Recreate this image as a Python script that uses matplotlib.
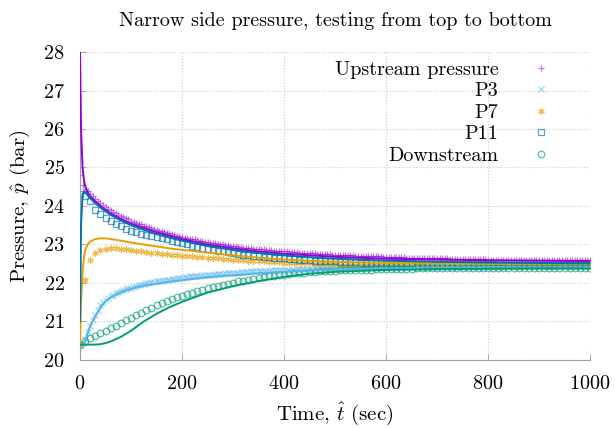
import numpy as np
import matplotlib
matplotlib.use("Agg")
import matplotlib.pyplot as plt

plt.rcParams['font.family'] = 'cmr10'
plt.rcParams['mathtext.fontset'] = 'cm'
plt.rcParams['axes.formatter.use_mathtext'] = True
plt.rcParams['axes.unicode_minus'] = False

# ---- simulation (solid lines) ----
t_sim = [0, 2, 5, 8, 10, 15, 20, 30, 40, 50, 60, 80, 100, 125, 150, 175, 200,
         250, 300, 350, 400, 450, 500, 600, 700, 800, 900, 1000]
sim_upstream = [28.0, 26.0, 25.0, 24.65, 24.52, 24.35, 24.25, 24.12, 24.0, 23.9, 23.81,
                23.66, 23.54, 23.43, 23.32, 23.23, 23.14, 23.0, 22.9, 22.82, 22.76,
                22.72, 22.68, 22.63, 22.61, 22.59, 22.58, 22.57]
sim_p3 = [20.4, 20.4, 20.41, 20.42, 20.48, 20.7, 20.88, 21.14, 21.36, 21.52, 21.62,
          21.75, 21.85, 21.93, 21.98, 22.03, 22.07, 22.15, 22.2, 22.25, 22.29,
          22.33, 22.35, 22.38, 22.4, 22.41, 22.41, 22.41]
sim_p7 = [20.4, 21.5, 22.3, 22.7, 22.85, 23.0, 23.08, 23.14, 23.16, 23.16, 23.14,
          23.1, 23.05, 23.0, 22.95, 22.9, 22.86, 22.79, 22.72, 22.66, 22.61,
          22.58, 22.55, 22.52, 22.51, 22.5, 22.5, 22.5]
sim_p11 = [21.0, 23.5, 24.3, 24.38, 24.36, 24.28, 24.2, 24.07, 23.96, 23.86, 23.77,
           23.62, 23.5, 23.38, 23.27, 23.18, 23.1, 22.96, 22.86, 22.78, 22.72,
           22.67, 22.63, 22.58, 22.55, 22.53, 22.52, 22.51]
sim_down = [20.4, 20.4, 20.4, 20.4, 20.4, 20.4, 20.4, 20.4, 20.41, 20.44, 20.48,
            20.6, 20.76, 21.0, 21.2, 21.37, 21.51, 21.75, 21.92, 22.05, 22.16,
            22.24, 22.29, 22.34, 22.36, 22.37, 22.38, 22.38]

# ---- measurements (markers) ----
t_exp5 = np.arange(0, 1001, 5)
t_exp10 = np.arange(0, 1001, 10)

exp_upstream = [
    24.80, 24.55, 24.45, 24.38, 24.31, 24.25, 24.19, 24.13, 24.08, 24.03,
    23.98, 23.93, 23.89, 23.85, 23.81, 23.77, 23.74, 23.71, 23.68, 23.65,
    23.62, 23.59, 23.57, 23.54, 23.52, 23.49, 23.47, 23.45, 23.42, 23.40,
    23.38, 23.36, 23.34, 23.32, 23.30, 23.29, 23.27, 23.25, 23.23, 23.22,
    23.20, 23.18, 23.17, 23.15, 23.14, 23.13, 23.11, 23.10, 23.09, 23.07,
    23.06, 23.05, 23.04, 23.03, 23.02, 23.01, 23.00, 22.99, 22.98, 22.97,
    22.96, 22.95, 22.94, 22.93, 22.92, 22.92, 22.91, 22.90, 22.89, 22.89,
    22.88, 22.87, 22.87, 22.86, 22.85, 22.85, 22.84, 22.84, 22.83, 22.83,
    22.82, 22.82, 22.81, 22.81, 22.80, 22.80, 22.79, 22.79, 22.78, 22.78,
    22.78, 22.77, 22.77, 22.76, 22.76, 22.76, 22.75, 22.75, 22.75, 22.74,
    22.74, 22.74, 22.73, 22.73, 22.73, 22.72, 22.72, 22.72, 22.71, 22.71,
    22.71, 22.70, 22.70, 22.70, 22.70, 22.69, 22.69, 22.69, 22.69, 22.68,
    22.68, 22.68, 22.68, 22.67, 22.67, 22.67, 22.67, 22.67, 22.66, 22.66,
    22.66, 22.66, 22.66, 22.65, 22.65, 22.65, 22.65, 22.65, 22.65, 22.64,
    22.64, 22.64, 22.64, 22.64, 22.64, 22.63, 22.63, 22.63, 22.63, 22.63,
    22.63, 22.63, 22.62, 22.62, 22.62, 22.62, 22.62, 22.62, 22.62, 22.62,
    22.61, 22.61, 22.61, 22.61, 22.61, 22.61, 22.61, 22.61, 22.61, 22.61,
    22.60, 22.60, 22.60, 22.60, 22.60, 22.60, 22.60, 22.60, 22.60, 22.60,
    22.60, 22.60, 22.59, 22.59, 22.59, 22.59, 22.59, 22.59, 22.59, 22.59,
    22.59, 22.59, 22.59, 22.59, 22.59, 22.59, 22.59, 22.59, 22.59, 22.59,
    22.59]

exp_p3 = [
    20.40, 20.45, 20.55, 20.72, 20.88, 21.03, 21.17, 21.30, 21.42, 21.50,
    21.57, 21.62, 21.66, 21.70, 21.73, 21.76, 21.79, 21.81, 21.84, 21.86,
    21.88, 21.90, 21.92, 21.94, 21.96, 21.97, 21.99, 22.00, 22.02, 22.03,
    22.04, 22.05, 22.06, 22.07, 22.08, 22.09, 22.10, 22.11, 22.12, 22.13,
    22.14, 22.15, 22.16, 22.17, 22.17, 22.18, 22.19, 22.19, 22.20, 22.21,
    22.21, 22.22, 22.22, 22.23, 22.23, 22.24, 22.24, 22.25, 22.25, 22.26,
    22.26, 22.27, 22.27, 22.28, 22.28, 22.29, 22.29, 22.30, 22.30, 22.31,
    22.31, 22.31, 22.32, 22.32, 22.32, 22.33, 22.33, 22.33, 22.34, 22.34,
    22.34, 22.35, 22.35, 22.35, 22.35, 22.36, 22.36, 22.36, 22.37, 22.37,
    22.37, 22.37, 22.38, 22.38, 22.38, 22.38, 22.38, 22.39, 22.39, 22.39,
    22.39, 22.39, 22.39, 22.40, 22.40, 22.40, 22.40, 22.40, 22.40, 22.41,
    22.41, 22.41, 22.41, 22.41, 22.41, 22.41, 22.41, 22.41, 22.41, 22.41,
    22.41, 22.41, 22.41, 22.41, 22.41, 22.41, 22.41, 22.41, 22.41, 22.41,
    22.42, 22.42, 22.42, 22.42, 22.42, 22.42, 22.42, 22.42, 22.42, 22.42,
    22.42, 22.42, 22.42, 22.42, 22.42, 22.42, 22.42, 22.42, 22.42, 22.42,
    22.42, 22.42, 22.42, 22.42, 22.42, 22.42, 22.42, 22.42, 22.42, 22.42,
    22.43, 22.43, 22.43, 22.43, 22.43, 22.43, 22.43, 22.43, 22.43, 22.43,
    22.43, 22.43, 22.43, 22.43, 22.43, 22.43, 22.43, 22.43, 22.43, 22.43,
    22.43, 22.43, 22.43, 22.43, 22.43, 22.43, 22.43, 22.43, 22.43, 22.43,
    22.43, 22.43, 22.43, 22.43, 22.43, 22.43, 22.43, 22.43, 22.43, 22.43,
    22.43]

exp_p7 = [
    20.40, 22.08, 22.60, 22.78, 22.86, 22.89, 22.90, 22.90, 22.89, 22.87,
    22.85, 22.83, 22.82, 22.80, 22.79, 22.78, 22.76, 22.75, 22.73, 22.72,
    22.71, 22.70, 22.69, 22.68, 22.67, 22.66, 22.65, 22.64, 22.63, 22.62,
    22.61, 22.60, 22.59, 22.58, 22.57, 22.57, 22.56, 22.55, 22.55, 22.54,
    22.53, 22.53, 22.52, 22.52, 22.51, 22.51, 22.50, 22.50, 22.49, 22.49,
    22.49, 22.48, 22.48, 22.48, 22.48, 22.47, 22.47, 22.47, 22.47, 22.47,
    22.47, 22.46, 22.46, 22.46, 22.46, 22.46, 22.46, 22.46, 22.45, 22.45,
    22.45, 22.45, 22.45, 22.45, 22.45, 22.45, 22.45, 22.45, 22.44, 22.44,
    22.44, 22.44, 22.44, 22.44, 22.44, 22.44, 22.44, 22.44, 22.44, 22.44,
    22.44, 22.44, 22.44, 22.44, 22.44, 22.44, 22.44, 22.44, 22.44, 22.44,
    22.44]

exp_p11 = [
    24.30, 24.25, 24.12, 23.90, 23.78, 23.70, 23.61, 23.54, 23.47, 23.41,
    23.36, 23.32, 23.28, 23.25, 23.22, 23.19, 23.16, 23.13, 23.10, 23.07,
    23.03, 23.00, 22.97, 22.94, 22.91, 22.88, 22.86, 22.84, 22.82, 22.80,
    22.78, 22.76, 22.74, 22.73, 22.71, 22.70, 22.68, 22.67, 22.66, 22.65,
    22.64, 22.63, 22.62, 22.61, 22.60, 22.59, 22.58, 22.58, 22.57, 22.56,
    22.56, 22.55, 22.55, 22.54, 22.54, 22.53, 22.53, 22.53, 22.52, 22.52,
    22.52, 22.51, 22.51, 22.51, 22.51, 22.51, 22.50, 22.50, 22.50, 22.50,
    22.50, 22.50, 22.50, 22.49, 22.49, 22.49, 22.49, 22.49, 22.49, 22.49,
    22.49, 22.49, 22.48, 22.48, 22.48, 22.48, 22.48, 22.48, 22.48, 22.48,
    22.48, 22.48, 22.48, 22.48, 22.48, 22.48, 22.48, 22.48, 22.48, 22.48,
    22.48]

exp_down = [
    20.40, 20.50, 20.57, 20.63, 20.69, 20.75, 20.82, 20.89, 20.96, 21.03,
    21.10, 21.17, 21.23, 21.30, 21.36, 21.42, 21.48, 21.53, 21.58, 21.63,
    21.67, 21.71, 21.75, 21.79, 21.83, 21.86, 21.89, 21.92, 21.95, 21.98,
    22.01, 22.04, 22.06, 22.09, 22.11, 22.13, 22.15, 22.17, 22.19, 22.21,
    22.22, 22.23, 22.25, 22.26, 22.27, 22.28, 22.29, 22.30, 22.31, 22.32,
    22.32, 22.33, 22.33, 22.34, 22.34, 22.35, 22.35, 22.35, 22.36, 22.36,
    22.36, 22.37, 22.37, 22.37, 22.37, 22.37, 22.38, 22.38, 22.38, 22.38,
    22.38, 22.38, 22.38, 22.38, 22.38, 22.38, 22.39, 22.39, 22.39, 22.39,
    22.39, 22.39, 22.39, 22.39, 22.39, 22.39, 22.40, 22.40, 22.40, 22.40,
    22.40, 22.40, 22.40, 22.40, 22.40, 22.40, 22.40, 22.40, 22.40, 22.40,
    22.40]

labels = ["Upstream pressure", "P3", "P7", "P11", "Downstream"]
colors = ["#9400d3", "#56b4e9", "#e69f00", "#0072b2", "#009e73"]

fig = plt.figure(figsize=(6.15, 4.28), dpi=100)
ax = fig.add_axes([0.1301, 0.1589, 0.8293, 0.7196])

# markers first (experiment), lines on top (simulation)
h1, = ax.plot(t_exp5, exp_upstream, ls='none', marker='+', ms=4.5, mew=0.9,
              color=colors[0], alpha=0.55, label=labels[0], zorder=2)
h2, = ax.plot(t_exp5, exp_p3, ls='none', marker='x', ms=3.8, mew=0.9,
              color=colors[1], alpha=0.55, label=labels[1], zorder=2)
h3, = ax.plot(t_exp10, exp_p7, ls='none', marker=(6, 2, 0), ms=4.5, mew=0.9,
              color=colors[2], alpha=0.7, label=labels[2], zorder=2)
h4, = ax.plot(t_exp10, exp_p11, ls='none', marker='s', ms=4.5, mew=0.9,
              mfc='none', color=colors[3], alpha=0.65, label=labels[3], zorder=2)
h5, = ax.plot(t_exp10, exp_down, ls='none', marker='o', ms=4.8, mew=0.9,
              mfc='none', color=colors[4], alpha=0.65, label=labels[4], zorder=2)

for ys, c in zip([sim_upstream, sim_p3, sim_p7, sim_p11, sim_down], colors):
    ax.plot(t_sim, ys, '-', color=c, lw=1.4, zorder=3)

ax.set_xlim(0, 1000)
ax.set_ylim(20, 28)
ax.set_xticks(range(0, 1001, 200))
ax.set_yticks(range(20, 29))
ax.grid(True, color='#cccccc', ls=':', lw=0.8)
for s in ['top', 'right']:
    ax.spines[s].set_visible(False)
for s in ['left', 'bottom']:
    ax.spines[s].set_color('#a0a0a0')
    ax.spines[s].set_linewidth(0.8)
ax.tick_params(direction='in', length=4, width=0.6, color='#a0a0a0',
               labelsize=14.5, pad=11)

ax.set_title("Narrow side pressure, testing from top to bottom", fontsize=14.5, pad=18.5)
ax.set_xlabel(r"Time, $\hat{t}$ (sec)", fontsize=15, labelpad=5)
ax.set_ylabel(r"Pressure, $\hat{p}$ (bar)", fontsize=15, labelpad=8)

leg = ax.legend(handles=[h1, h2, h3, h4, h5], loc='upper right',
                bbox_to_anchor=(0.935, 0.972), markerfirst=False, frameon=False,
                fontsize=14.5, handlelength=1.6, handletextpad=1.3,
                labelspacing=0.17, borderpad=0, borderaxespad=0)
for vp in leg._legend_box.get_children()[1].get_children():
    vp.align = "right"

plt.savefig("out.png", dpi=100)
plt.close()
